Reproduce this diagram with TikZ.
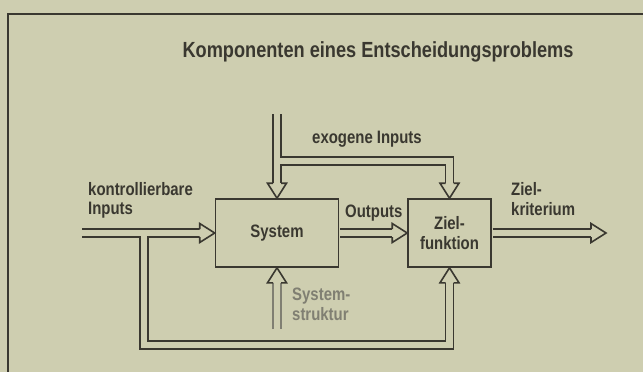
\documentclass[tikz,border=0pt]{standalone}
\usepackage{fontspec}
\setmainfont{Liberation Sans}[FakeStretch=0.83]
\usetikzlibrary{calc}

\definecolor{bg}{RGB}{206,206,176}
\definecolor{ink}{RGB}{58,56,48}
\definecolor{grayink}{RGB}{128,127,114}

\tikzset{
  lab/.style={inner sep=0pt, text=ink, font=\bfseries\fontsize{18}{20}\selectfont},
  box/.style={draw=ink, line width=1.6pt, inner sep=0pt, minimum height=68pt,
              align=center, text=ink, font=\bfseries\fontsize{18}{20}\selectfont},
  pipeout/.style={draw=ink, line width=9.6pt},
  pipein/.style={draw=bg, line width=6.4pt},
  grayout/.style={draw=grayink, line width=9.6pt},
  arrowhd/.pic={
    \fill[bg] (-15,-9.5) -- (0,0) -- (-15,9.5) -- cycle;
    \draw[line width=1.6pt, line join=miter, draw=ink, pic actions]
      (-15,-4) -- (-15,-9.5) -- (0,0) -- (-15,9.5) -- (-15,4);
  }
}

% all double-line connectors of the diagram, stroked with the given style
\newcommand\pipenet[1]{%
  \draw[#1] (exTop) -- ($(sys.north)+(0,-14)$);
  \draw[#1] (exJoin) -| ($(zf.north)+(0,-14)$);
  \draw[#1] (inStart) -- ($(sys.west)+(-14,0)$);
  \draw[#1] (fbJoin) |- (fbLow) -| ($(zf.south)+(0,14)$);
  \draw[#1] ($(sys.east)+(0.8,0)$) -- ($(zf.west)+(-14,0)$);
  \draw[#1] ($(zf.east)+(0.8,0)$) -- ($(zkTip)+(-14,0)$);
}

\begin{document}
\begin{tikzpicture}[x=1pt, y=-1pt]
  \fill[bg] (0,0) rectangle (643,372);
  \useasboundingbox (0,0) rectangle (643,372);

  % open frame
  \draw[ink, line width=1.5pt] (643,14) -- (8,14) -- (8,372);

  % title
  \node[lab, anchor=base, font=\bfseries\fontsize{21.9}{24}\selectfont]
    (ttl) at (378,57) {Komponenten eines Entscheidungsproblems};

  % blocks
  \node[box, minimum width=123pt] (sys) at (277,233) {System};
  \node[box, minimum width=83pt] (zf) at (449.5,233) {Ziel-\\funktion};

  % connector end points
  \coordinate (exTop)    at (277,114);
  \coordinate (exJoin)   at (277,161);
  \coordinate (inStart)  at (82,233);
  \coordinate (fbJoin)   at (144,233);
  \coordinate (fbLow)    at (144,345);
  \coordinate (zkTip)    at (606,233);
  \coordinate (ssBottom) at (277,329);

  % double lines: outer strokes first, then the inner channels
  \pipenet{pipeout}
  \draw[grayout] (ssBottom) -- ($(sys.south)+(0,14)$);
  \pipenet{pipein}
  \draw[pipein] (ssBottom) -- ($(sys.south)+(0,14)$);

  % hollow arrow heads
  \pic[rotate=-90] at (sys.north) {arrowhd};
  \pic[rotate=-90] at (zf.north) {arrowhd};
  \pic at (sys.west) {arrowhd};
  \pic[rotate=90] at (zf.south) {arrowhd};
  \pic[rotate=90, draw=grayink] at (sys.south) {arrowhd};
  \pic at (zf.west) {arrowhd};
  \pic at (zkTip) {arrowhd};

  % labels
  \node[lab, anchor=base west] (kin1) at (88,195) {kontrollierbare};
  \node[lab, anchor=base west] (kin2) at (88,214) {Inputs};
  \node[lab, anchor=base west] (exo)  at (312,143) {exogene Inputs};
  \node[lab, anchor=base west] (outp) at (345,217) {Outputs};
  \node[lab, anchor=base west] (zk1)  at (511,195) {Ziel-};
  \node[lab, anchor=base west] (zk2)  at (511,215) {kriterium};
  \node[lab, anchor=base west, text=grayink] (ss1) at (292,300) {System-};
  \node[lab, anchor=base west, text=grayink] (ss2) at (292,320) {struktur};
\end{tikzpicture}
\end{document}
